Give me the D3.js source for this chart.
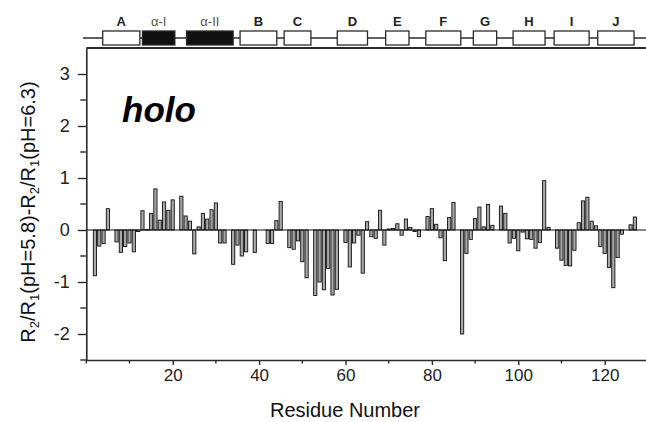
<!DOCTYPE html>
<html>
<head>
<meta charset="utf-8">
<script src="https://cdn.jsdelivr.net/npm/d3@7"></script>
<style>
  body { margin: 0; background: #fff; }
  svg { display: block; font-family: "Liberation Sans", Arial, sans-serif; }
</style>
</head>
<body>
<div id="chart"></div>
<script>
// residue numbers and values (null = no bar)
var residues = d3.range(1, 129);
var values = [
  null, -0.88, -0.31, -0.26, 0.41, null, -0.23, -0.43, -0.32, -0.25,
  -0.42, -0.03, 0.37, 0.01, 0.32, 0.79, 0.19, 0.54, 0.38, 0.58,
  null, 0.65, 0.27, 0.17, -0.46, 0.06, 0.32, 0.21, 0.39, 0.52,
  -0.25, -0.25, null, -0.66, -0.29, -0.5, -0.42, null, -0.43, null,
  null, -0.26, -0.26, 0.18, 0.55, null, -0.34, -0.37, -0.21, -0.61,
  -0.92, null, -1.26, -1.0, -1.15, -0.74, -1.25, -1.14, null, -0.24,
  -0.71, -0.25, -0.1, -0.83, 0.16, -0.13, -0.16, 0.38, -0.29, 0.02,
  0.03, 0.12, -0.1, 0.21, 0.05, -0.03, -0.13, null, 0.26, 0.41,
  0.11, -0.15, -0.59, 0.24, 0.53, null, -2.0, -0.45, -0.18, 0.22,
  0.44, 0.06, 0.49, 0.09, null, 0.46, 0.32, -0.25, -0.16, -0.4,
  -0.04, -0.17, -0.18, -0.35, -0.24, 0.95, 0.05, null, -0.35, -0.58,
  -0.68, -0.69, -0.39, 0.14, 0.56, 0.63, 0.17, 0.08, -0.32, -0.45,
  -0.72, -1.11, -0.53, -0.08, null, 0.10, 0.25, null
];

// secondary structure elements (residue ranges)
var ssNames = ["A", "\u03b1-I", "\u03b1-II", "B", "C", "D", "E", "F", "G", "H", "I", "J"];
var ssStart = [3.8, 13.0, 23.2, 35.6, 45.8, 58.1, 69.3, 78.6, 89.6, 98.8, 108.3, 118.4];
var ssEnd   = [12.4, 20.5, 34.0, 44.1, 52.0, 65.1, 74.7, 86.7, 95.0, 106.2, 116.4, 126.8];
var ssHelix = [false, true, true, false, false, false, false, false, false, false, false, false];

var xMajor = [20, 40, 60, 80, 100, 120];
var xMinor = [0, 10, 30, 50, 70, 90, 110];
var yMajor = [-2, -1, 0, 1, 2, 3];
var yMinor = [-2.5, -1.5, -0.5, 0.5, 1.5, 2.5];

var w = 646, h = 422;
var svg = d3.select("#chart").append("svg")
  .attr("width", w).attr("height", h);

var x = d3.scaleLinear().domain([0, 129.5]).range([86.3, 645.7]);
var y = d3.scaleLinear().domain([-2.5, 3.5]).range([360, 48]);

var ink = "#2b2b2b";

// bars
var data = residues.map(function(r, i) { return { r: r, v: values[i] }; })
  .filter(function(d) { return d.v !== null; });

svg.selectAll(".bar")
  .data(data)
  .enter()
  .append("rect")
  .attr("class", "bar")
  .attr("x", function(d) { return x(d.r) - 1.6; })
  .attr("width", 3.2)
  .attr("y", function(d) { return d.v > 0 ? y(d.v) : y(0); })
  .attr("height", function(d) { return Math.max(0.6, Math.abs(y(d.v) - y(0))); })
  .attr("fill", "#a8a8a8")
  .attr("stroke", "#111")
  .attr("stroke-width", 0.9);

// zero line
svg.append("line")
  .attr("x1", x(0)).attr("x2", w)
  .attr("y1", y(0)).attr("y2", y(0))
  .attr("stroke", "#111").attr("stroke-width", 1.2);

// axes
var xAxis = svg.append("g")
  .attr("transform", "translate(0," + y(-2.5) + ")")
  .call(d3.axisBottom(x).tickValues(xMajor).tickSize(5).tickSizeOuter(0).tickPadding(4));
xAxis.select(".domain").attr("stroke", ink).attr("stroke-width", 1.6);
xAxis.selectAll(".tick line").attr("stroke", ink).attr("stroke-width", 1.4);
xAxis.selectAll(".tick text").attr("fill", "#222").attr("font-size", "17px")
  .attr("font-family", "Liberation Sans, Arial, sans-serif");

svg.append("g").selectAll("line")
  .data(xMinor).enter().append("line")
  .attr("x1", function(d) { return x(d); }).attr("x2", function(d) { return x(d); })
  .attr("y1", y(-2.5)).attr("y2", y(-2.5) + 3.5)
  .attr("stroke", ink).attr("stroke-width", 1.4);

var yAxis = svg.append("g")
  .attr("transform", "translate(" + x(0) + ",0)")
  .call(d3.axisLeft(y).tickValues(yMajor).tickSize(8.5).tickSizeOuter(0).tickPadding(8)
    .tickFormat(function(d) { return String(d); }));
yAxis.select(".domain").attr("stroke", ink).attr("stroke-width", 1.6);
yAxis.selectAll(".tick line").attr("stroke", ink).attr("stroke-width", 1.4);
yAxis.selectAll(".tick text").attr("fill", "#222").attr("font-size", "18px")
  .attr("font-family", "Liberation Sans, Arial, sans-serif");

svg.append("g").selectAll("line")
  .data(yMinor).enter().append("line")
  .attr("x1", x(0) - 6).attr("x2", x(0))
  .attr("y1", function(d) { return y(d); }).attr("y2", function(d) { return y(d); })
  .attr("stroke", ink).attr("stroke-width", 1.4);

// top frame line
svg.append("line")
  .attr("x1", x(0)).attr("x2", w)
  .attr("y1", y(3.5)).attr("y2", y(3.5))
  .attr("stroke", ink).attr("stroke-width", 1.8);

// secondary structure diagram
svg.append("line")
  .attr("x1", 83).attr("x2", w)
  .attr("y1", 38).attr("y2", 38)
  .attr("stroke", ink).attr("stroke-width", 1.3);

for (var i = 0; i < ssNames.length; i++) {
  svg.append("rect")
    .attr("x", x(ssStart[i]))
    .attr("y", 31)
    .attr("width", x(ssEnd[i]) - x(ssStart[i]))
    .attr("height", 14)
    .attr("fill", ssHelix[i] ? "#111" : "#fff")
    .attr("stroke", ink)
    .attr("stroke-width", 1.3);

  svg.append("text")
    .text(ssNames[i])
    .attr("x", (x(ssStart[i]) + x(ssEnd[i])) / 2)
    .attr("y", 26)
    .attr("text-anchor", "middle")
    .attr("font-size", "13px")
    .attr("font-weight", ssHelix[i] ? "normal" : "bold")
    .attr("fill", ssHelix[i] ? "#555" : "#222");
}

// holo label
svg.append("text")
  .text("holo")
  .attr("x", 122)
  .attr("y", 122)
  .attr("font-size", "35px")
  .attr("font-weight", "bold")
  .attr("font-style", "italic")
  .attr("fill", "#000");

// axis titles
svg.append("text")
  .text("Residue Number")
  .attr("x", 345)
  .attr("y", 417)
  .attr("text-anchor", "middle")
  .attr("font-size", "20px")
  .attr("fill", "#111");

var yl = svg.append("text")
  .attr("transform", "translate(35,212) rotate(-90)")
  .attr("text-anchor", "middle")
  .attr("font-size", "20px")
  .attr("fill", "#111");
var parts = [["R", 0], ["2", 1], ["/R", 0], ["1", 1], ["(pH=5.8)-R", 0], ["2", 1], ["/R", 0], ["1", 1], ["(pH=6.3)", 0]];
parts.forEach(function(p, k) {
  var t = yl.append("tspan").text(p[0]);
  if (p[1]) {
    t.attr("font-size", "13px").attr("dy", 4);
  } else if (k > 0) {
    t.attr("dy", -4);
  }
});
</script>
</body>
</html>
